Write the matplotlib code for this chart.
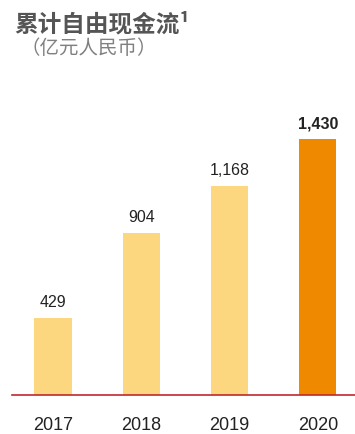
import matplotlib
matplotlib.use("Agg")
import matplotlib.pyplot as plt

years = ["2017", "2018", "2019", "2020"]
values = [429, 904, 1168, 1430]
value_labels = ["429", "904", "1,168", "1,430"]
colors = ["#FDD77F", "#FDD77F", "#FDD77F", "#EF8A00"]

plt.rcParams["font.family"] = ["Noto Sans CJK SC", "DejaVu Sans"]

fig = plt.figure(figsize=(3.55, 4.35), dpi=100)
ax = fig.add_axes([12 / 355, 39 / 435, 343 / 355, 296 / 435])

x = range(len(years))
ax.bar(x, values, width=0.42, color=colors, zorder=2)
ax.set_xlim(-0.464, 3.42)
ax.set_ylim(0, 1654)

for i, (v, lab) in enumerate(zip(values, value_labels)):
    bold = i == len(values) - 1
    ax.text(i, v + 50, lab, ha="center", va="bottom",
            fontsize=11.5, color="#222222",
            fontweight="bold" if bold else "normal",
            family=["Liberation Sans", "DejaVu Sans"])

for s in ["top", "right", "left"]:
    ax.spines[s].set_visible(False)
ax.spines["bottom"].set_color("#C0282D")
ax.spines["bottom"].set_linewidth(1.2)
ax.set_yticks([])
ax.set_xticks(list(x))
ax.set_xticklabels(years, fontsize=13, color="#222222",
                   family=["Liberation Sans", "DejaVu Sans"])
ax.tick_params(axis="x", length=0, pad=15)

fig.text(14 / 355, 1 - 24 / 435, "累计自由现金流¹", fontsize=17, fontweight="bold",
         color="#555555", va="center", ha="left")
fig.text(21 / 355, 1 - 48 / 435, "（亿元人民币）", fontsize=14, style="italic",
         color="#808080", va="center", ha="left")

fig.savefig("out.png", dpi=100)
